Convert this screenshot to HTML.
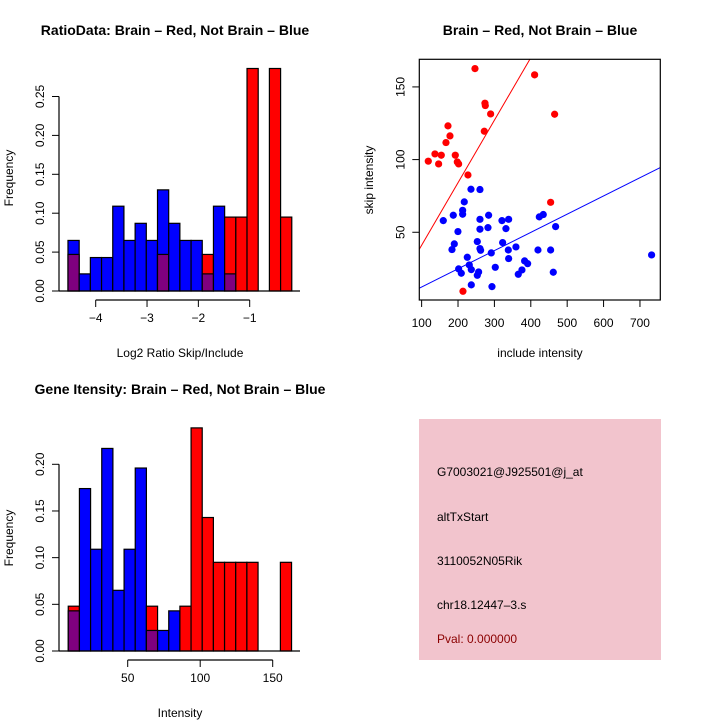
<!DOCTYPE html>
<html><head><meta charset="utf-8"><style>
html,body{margin:0;padding:0;background:#fff;}
svg{display:block;font-family:"Liberation Sans",sans-serif;}
</style></head><body>
<svg id="s" width="720" height="720" viewBox="0 0 720 720">
<rect width="720" height="720" fill="#fff"/>
<text x="175" y="35" font-size="14" font-weight="bold" text-anchor="middle">RatioData: Brain – Red, Not Brain – Blue</text>
<text x="540" y="35" font-size="14" font-weight="bold" text-anchor="middle">Brain – Red, Not Brain – Blue</text>
<text x="180" y="394" font-size="14" font-weight="bold" text-anchor="middle">Gene Itensity: Brain – Red, Not Brain – Blue</text>
<text x="180" y="357" font-size="12" text-anchor="middle">Log2 Ratio Skip/Include</text>
<text x="540" y="357" font-size="12" text-anchor="middle">include intensity</text>
<text x="180" y="717" font-size="12" text-anchor="middle">Intensity</text>
<text transform="translate(13,178) rotate(-90)" font-size="12" text-anchor="middle">Frequency</text>
<text transform="translate(13,538) rotate(-90)" font-size="12" text-anchor="middle">Frequency</text>
<text transform="translate(373,180) rotate(-90)" font-size="12" text-anchor="middle">skip intensity</text>
<g>
<rect x="419" y="419" width="242" height="241" fill="#f2c4cd"/>
<text x="437" y="476" font-size="12">G7003021@J925501@j_at</text>
<text x="437" y="521" font-size="12">altTxStart</text>
<text x="437" y="565" font-size="12">3110052N05Rik</text>
<text x="437" y="609" font-size="12">chr18.12447–3.s</text>
<text x="437" y="643" font-size="12" fill="#8b0000">Pval: 0.000000</text>
</g>
</svg>
<script>
// Ratio histogram data
const ratioBinStart = -4.54, ratioBinWidth = 0.218;
const ratioBlue = [0.065,0.022,0.043,0.043,0.109,0.065,0.087,0.065,0.130,0.087,0.065,0.065,0.022,0.109,0.022,0,0,0,0,0];
const ratioRed  = [0.047,0,0,0,0,0,0,0,0.047,0,0,0,0.047,0,0.095,0.095,0.286,0,0.286,0.095];
const ratioXTicks = [-4,-3,-2,-1];
const ratioYTicks = [0,0.05,0.10,0.15,0.20,0.25];
// Intensity histogram data
const intBinStart = 9.0, intBinWidth = 7.7;
const intBlue = [0.043,0.174,0.109,0.217,0.065,0.109,0.196,0.022,0.022,0.043,0,0,0,0,0,0,0,0,0,0];
const intRed  = [0.048,0,0,0,0,0,0,0.048,0,0,0.048,0.239,0.143,0.095,0.095,0.095,0.095,0,0,0.095];
const intXTicks = [50,100,150];
const intYTicks = [0,0.05,0.10,0.15,0.20];
// Scatter data
const redX = [118.3,136.6,146.7,154.0,166.9,172.4,177.9,192.5,198.0,201.7,227.3,246.6,272.2,274.0,275.0,289.6,213.6,410.5,454.5,465.5];
const redY = [98.9,103.9,97.0,103.0,111.7,123.2,116.3,103.0,98.4,97.0,89.4,162.6,119.5,138.8,137.2,131.4,9.4,158.3,70.6,131.2];
const blueX = [159.5,183.4,187.0,189.8,199.8,201.7,209.0,212.7,212.7,217.2,225.5,231.0,235.6,236.5,236.5,253.0,253.0,256.6,260.3,260.3,260.3,260.3,262.1,282.3,284.1,291.4,293.3,302.4,320.8,322.6,331.7,339.1,338.2,339.1,359.2,365.6,375.7,383.0,391.3,419.7,423.4,434.3,454.5,461.8,468.2,732.0];
const blueY = [58.0,38.1,61.7,42.0,50.5,24.8,21.8,65.1,62.4,70.9,32.8,27.5,79.6,24.3,13.8,43.6,20.4,22.7,79.4,58.9,52.1,38.8,37.6,53.2,61.7,35.8,12.6,25.9,58.0,42.9,52.5,58.9,37.8,31.9,39.9,21.1,24.1,30.3,28.4,37.8,60.6,62.2,37.8,22.5,53.9,34.4];
const redFit = [-1.9,0.43];
const blueFit = [-0.2,0.1253];
const scXTicks = [100,200,300,400,500,600,700];
const scYTicks = [50,100,150];

const NS="http://www.w3.org/2000/svg", svg=document.getElementById('s');
function mk(t,a,p){const e=document.createElementNS(NS,t);for(const k in a)e.setAttribute(k,a[k]);(p||svg).appendChild(e);return e;}

function hist(g, blue, red, x0, bw, xs, ys, xTicks, yTicks, yLeft, xLine, fmtX){
  for(let i=0;i<blue.length;i++){
    const b=blue[i], r=red[i], xa=xs(x0+i*bw), xb=xs(x0+(i+1)*bw);
    const hi=Math.max(b,r), lo=Math.min(b,r);
    if(hi>0){
      const e=mk('rect',{x:xa,y:ys(hi),width:xb-xa,height:ys(0)-ys(hi),fill:b>=r?'#0000ff':'#ff0000',stroke:'#000','stroke-width':1.2},g);
      
      
    }
    if(lo>0){
      const e=mk('rect',{x:xa,y:ys(lo),width:xb-xa,height:ys(0)-ys(lo),fill:'#7f007f',stroke:'#000','stroke-width':1.2},g);
      
      
    }
  }
  mk('line',{x1:yLeft,x2:300,y1:ys(0),y2:ys(0),stroke:'#000','stroke-width':1.2},g);
  mk('line',{x1:yLeft,x2:yLeft,y1:ys(0),y2:ys(yTicks[yTicks.length-1]),stroke:'#000','stroke-width':1.2},g);
  yTicks.forEach(v=>{
    mk('line',{x1:yLeft-7,x2:yLeft,y1:ys(v),y2:ys(v),stroke:'#000'},g);
    const t=mk('text',{transform:`translate(${yLeft-15},${ys(v)}) rotate(-90)`,'font-size':12,'text-anchor':'middle'},g);
    t.textContent=v.toFixed(2);
  });
  mk('line',{x1:xs(xTicks[0]),x2:xs(xTicks[xTicks.length-1]),y1:xLine,y2:xLine,stroke:'#000','stroke-width':1.2},g);
  xTicks.forEach(v=>{
    mk('line',{x1:xs(v),x2:xs(v),y1:xLine,y2:xLine+7,stroke:'#000'},g);
    const t=mk('text',{x:xs(v),y:xLine+22,'font-size':12,'text-anchor':'middle'},g);
    t.textContent=fmtX(v);
  });
}
const g1=mk('g',{});  
hist(g1, ratioBlue, ratioRed, ratioBinStart, ratioBinWidth, v=>95.7+(v+4)*51.33, v=>291-v*778, ratioXTicks, ratioYTicks, 59, 300, v=>String(v).replace('-','−'));
const g2=mk('g',{});  
hist(g2, intBlue, intRed, intBinStart, intBinWidth, v=>127.7+(v-50)*1.45, v=>651-v*933.5, intXTicks, intYTicks, 59, 660, v=>String(v));

// scatter
const g3=mk('g',{});  
const X0=93.6,X1=755.9,Y0=3.4,Y1=169.0, L=419.3,R=660.3,T=59.3,B=300;
const sx=v=>L+(v-X0)/(X1-X0)*(R-L), sy=v=>B-(v-Y0)/(Y1-Y0)*(B-T);
mk('clipPath',{id:'cp'},g3); mk('rect',{x:L,y:T,width:R-L,height:B-T},document.getElementById('cp'));
function fit(c,col,nm){
  const l=mk('line',{x1:sx(X0),y1:sy(c[0]+c[1]*X0),x2:sx(X1),y2:sy(c[0]+c[1]*X1),stroke:col,'stroke-width':1,'clip-path':'url(#cp)'},g3);
  
  
}
fit(redFit,'#ff0000','red-fit-line'); fit(blueFit,'#0000ff','blue-fit-line');
redX.forEach((x,i)=>{const c=mk('circle',{cx:sx(x),cy:sy(redY[i]),r:3.6,fill:'#ff0000'},g3);
  
  });
blueX.forEach((x,i)=>{const c=mk('circle',{cx:sx(x),cy:sy(blueY[i]),r:3.6,fill:'#0000ff'},g3);
  
  });
mk('rect',{x:L,y:T,width:R-L,height:B-T,fill:'none',stroke:'#000','stroke-width':1.2},g3);
scXTicks.forEach(v=>{mk('line',{x1:sx(v),x2:sx(v),y1:B,y2:B+7,stroke:'#000'},g3);
  const t=mk('text',{x:sx(v),y:B+27,'font-size':12,'text-anchor':'middle'},g3); t.textContent=v;});
scYTicks.forEach(v=>{mk('line',{x1:L-7,x2:L,y1:sy(v),y2:sy(v),stroke:'#000'},g3);
  const t=mk('text',{transform:`translate(${L-15},${sy(v)}) rotate(-90)`,'font-size':12,'text-anchor':'middle'},g3); t.textContent=v;});
</script>
</body></html>
